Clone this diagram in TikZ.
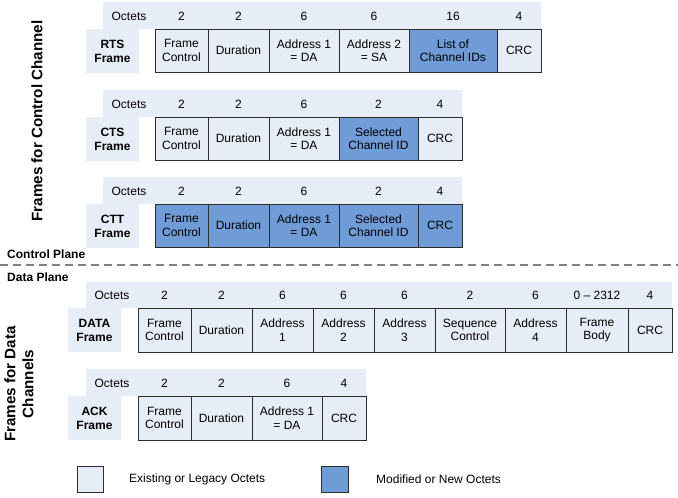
\documentclass[tikz,border=0pt]{standalone}
\usepackage{fontspec}
\setmainfont{Liberation Sans}
\definecolor{lite}{RGB}{231,237,246}
\definecolor{blu}{RGB}{111,155,215}
\definecolor{edge}{RGB}{45,45,45}
\newcommand\fld[7]{%
 \pgfmathsetmacro\myW{#3-#2}\pgfmathsetmacro\myH{#5-#4}%
 \pgfmathsetmacro\myX{(#2+#3)/2}\pgfmathsetmacro\myY{(#4+#5)/2}%
 \node[#6, minimum width=\myW pt, minimum height=\myH pt] (#1) at (\myX,\myY) {#7};}
\begin{document}
\begin{tikzpicture}[x=1pt,y=-1pt,
  fld/.style={draw=edge, line width=0.8pt, fill=lite, inner sep=0pt, outer sep=0pt, align=center, font=\fontsize{12}{13.5}\selectfont},
  newf/.style={fld, fill=blu},
  band/.style={fill=lite, draw=none, inner sep=0pt, outer sep=0pt},
  lbl/.style={fill=lite, draw=none, inner sep=0pt, outer sep=0pt, align=center, font=\bfseries\fontsize{12}{14}\selectfont},
  num/.style={inner sep=0pt, font=\fontsize{12}{13}\selectfont},
  title/.style={rotate=90, align=center, font=\bfseries\fontsize{15.2}{18}\selectfont},
  plane/.style={anchor=west, inner sep=0pt, font=\bfseries\fontsize{12}{13}\selectfont},
  legtext/.style={anchor=west, inner sep=0pt, font=\fontsize{12}{13}\selectfont}]
\useasboundingbox (0,0) rectangle (678,498);

% ---------- titles ----------
\node[title] (tctl) at (37,121) {Frames for Control Channel};
\node[title] (tdat) at (19,384) {Frames for Data\\Channels};

% ---------- RTS ----------
\fld{rtsband}{103}{541}{2}{29}{band}{}
\fld{rtslbl}{86}{139}{29}{73}{lbl}{RTS\\Frame}
\node[num] (rtso) at (129,16) {Octets};
\node[num] (rtsn1) at (181.5,16) {2};
\node[num] (rtsn2) at (238.5,16) {2};
\node[num] (rtsn3) at (304,16) {6};
\node[num] (rtsn4) at (374,16) {6};
\node[num] (rtsn5) at (453,16) {16};
\node[num] (rtsn6) at (519,16) {4};
\fld{rts1}{155}{208}{29}{72}{fld}{Frame\\Control}
\fld{rts2}{208}{269}{29}{72}{fld}{Duration}
\fld{rts3}{269}{339}{29}{72}{fld}{Address 1\\= DA}
\fld{rts4}{339}{409}{29}{72}{fld}{Address 2\\= SA}
\fld{rts5}{409}{497}{29}{72}{newf}{List of\\Channel IDs}
\fld{rts6}{497}{541}{29}{72}{fld}{CRC}

% ---------- CTS ----------
\fld{ctsband}{103}{462}{90}{117}{band}{}
\fld{ctslbl}{86}{139}{117}{161}{lbl}{CTS\\Frame}
\node[num] (ctso) at (129,104) {Octets};
\node[num] (ctsn1) at (181.5,104) {2};
\node[num] (ctsn2) at (238.5,104) {2};
\node[num] (ctsn3) at (304,104) {6};
\node[num] (ctsn4) at (378.5,104) {2};
\node[num] (ctsn5) at (440,104) {4};
\fld{cts1}{155}{208}{117}{160}{fld}{Frame\\Control}
\fld{cts2}{208}{269}{117}{160}{fld}{Duration}
\fld{cts3}{269}{339}{117}{160}{fld}{Address 1\\= DA}
\fld{cts4}{339}{418}{117}{160}{newf}{Selected\\Channel ID}
\fld{cts5}{418}{462}{117}{160}{fld}{CRC}

% ---------- CTT ----------
\fld{cttband}{103}{462}{177}{204}{band}{}
\fld{cttlbl}{86}{139}{204}{248}{lbl}{CTT\\Frame}
\node[num] (outo) at (129,191) {Octets};
\node[num] (cttn1) at (181.5,191) {2};
\node[num] (cttn2) at (238.5,191) {2};
\node[num] (cttn3) at (304,191) {6};
\node[num] (cttn4) at (378.5,191) {2};
\node[num] (cttn5) at (440,191) {4};
\fld{ctt1}{155}{208}{204}{247}{newf}{Frame\\Control}
\fld{ctt2}{208}{269}{204}{247}{newf}{Duration}
\fld{ctt3}{269}{339}{204}{247}{newf}{Address 1\\= DA}
\fld{ctt4}{339}{418}{204}{247}{newf}{Selected\\Channel ID}
\fld{ctt5}{418}{462}{204}{247}{newf}{CRC}

% ---------- planes ----------
\node[plane] (cplane) at (7,254) {Control Plane};
\coordinate (dl) at (0,265);
\coordinate (dr) at (678,265);
\draw[draw=black!50, line width=1.8pt, dash pattern=on 8pt off 5pt] (dl) -- (dr);
\node[plane] (dplane) at (7,277) {Data Plane};

% ---------- DATA ----------
\fld{databand}{86}{672}{282}{308}{band}{}
\fld{datalbl}{68}{121}{308}{352}{lbl}{DATA\\Frame}
\node[num] (datao) at (112,295) {Octets};
\node[num] (datan1) at (164.5,295) {2};
\node[num] (datan2) at (221.5,295) {2};
\node[num] (datan3) at (282.5,295) {6};
\node[num] (datan4) at (343.5,295) {6};
\node[num] (datan5) at (404.5,295) {6};
\node[num] (datan6) at (470,295) {2};
\node[num] (datan7) at (535.5,295) {6};
\node[num] (datan8) at (597,295) {0 -- 2312};
\node[num] (datan9) at (650,295) {4};
\fld{data1}{138}{191}{308}{352}{fld}{Frame\\Control}
\fld{data2}{191}{252}{308}{352}{fld}{Duration}
\fld{data3}{252}{313}{308}{352}{fld}{Address\\1}
\fld{data4}{313}{374}{308}{352}{fld}{Address\\2}
\fld{data5}{374}{435}{308}{352}{fld}{Address\\3}
\fld{data6}{435}{505}{308}{352}{fld}{Sequence\\Control}
\fld{data7}{505}{566}{308}{352}{fld}{Address\\4}
\fld{data8}{566}{628}{308}{352}{fld}{Frame\\Body}
\fld{data9}{628}{672}{308}{352}{fld}{CRC}

% ---------- ACK ----------
\fld{ackband}{86}{366}{369}{396}{band}{}
\fld{acklbl}{68}{121}{396}{440}{lbl}{ACK\\Frame}
\node[num] (acko) at (112,383) {Octets};
\node[num] (ackn1) at (164.5,383) {2};
\node[num] (ackn2) at (221.5,383) {2};
\node[num] (ackn3) at (287,383) {6};
\node[num] (ackn4) at (344,383) {4};
\fld{ack1}{138}{191}{396}{440}{fld}{Frame\\Control}
\fld{ack2}{191}{252}{396}{440}{fld}{Duration}
\fld{ack3}{252}{322}{396}{440}{fld}{Address 1\\= DA}
\fld{ack4}{322}{366}{396}{440}{fld}{CRC}

% ---------- legend ----------
\fld{leg1}{77}{103}{466}{492}{fld}{}
\node[legtext] (leg1t) at (129,479) {Existing or Legacy Octets};
\fld{leg2}{321}{348}{466}{492}{newf}{}
\node[legtext] (leg2t) at (376,479) {Modified or New Octets};
\end{tikzpicture}
\end{document}
